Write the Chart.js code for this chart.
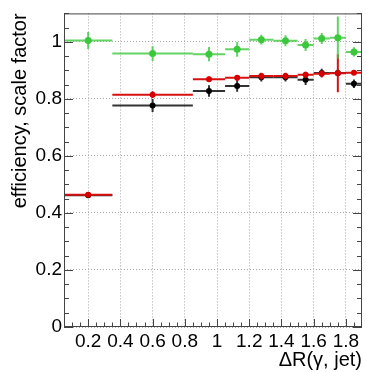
<!DOCTYPE html>
<html>
<head>
<meta charset="utf-8">
<script src="https://cdn.jsdelivr.net/npm/chart.js@4.4.0/dist/chart.umd.min.js"></script>
<style>
body { margin: 0; background: #fff; }
canvas { display: block; }
</style>
</head>
<body>
<canvas id="effChart" width="366" height="372"></canvas>
<script>
//bins in dR(photon, jet): centre and half width
const binCentres = [0.2, 0.6, 0.95, 1.125, 1.275, 1.425, 1.55, 1.65, 1.75, 1.85];
const binHalfWidths = [0.15, 0.25, 0.1, 0.075, 0.075, 0.075, 0.05, 0.05, 0.05, 0.05];

//green series (scale factor)
const greenValues = [1.005, 0.959, 0.957, 0.974, 1.008, 1.004, 0.989, 1.012, 1.015, 0.965];
const greenErrors = [0.03, 0.026, 0.025, 0.026, 0.017, 0.019, 0.021, 0.019, 0.074, 0.016];

//red series
const redValues = [0.464, 0.815, 0.869, 0.874, 0.880, 0.880, 0.885, 0.888, 0.890, 0.892];
const redErrors = [0.008, 0.012, 0.01, 0.01, 0.012, 0.012, 0.01, 0.012, 0.067, 0.008];

//black series
const blackValues = [0.462, 0.777, 0.828, 0.845, 0.876, 0.876, 0.867, 0.891, 0.891, 0.853];
const blackErrors = [0.008, 0.023, 0.02, 0.02, 0.015, 0.015, 0.018, 0.015, 0.012, 0.015];

//tick labels
const xTickValues = [0.2, 0.4, 0.6, 0.8, 1, 1.2, 1.4, 1.6, 1.8];
const yTickValues = [0, 0.2, 0.4, 0.6, 0.8, 1];

function toPoints(values) {
	return binCentres.map((x, i) => ({ x: x, y: values[i] }));
}

//draws the x and y error bars of a dataset just before its markers
const errorBars = {
	id: 'errorBars',
	beforeDatasetDraw(chart, args) {
		const ds = chart.data.datasets[args.index];
		const xs = chart.scales.x, ys = chart.scales.y;
		const ctx = chart.ctx, area = chart.chartArea;
		ctx.save();
		ctx.beginPath();
		ctx.rect(area.left, area.top, area.right - area.left, area.bottom - area.top);
		ctx.clip();
		ctx.strokeStyle = ds.errorColor;
		ctx.lineWidth = 2;
		ds.data.forEach((p, i) => {
			const px = xs.getPixelForValue(p.x), py = ys.getPixelForValue(p.y);
			ctx.beginPath();
			ctx.moveTo(xs.getPixelForValue(p.x - ds.xErr[i]), py);
			ctx.lineTo(xs.getPixelForValue(p.x + ds.xErr[i]), py);
			ctx.moveTo(px, ys.getPixelForValue(p.y - ds.yErr[i]));
			ctx.lineTo(px, ys.getPixelForValue(p.y + ds.yErr[i]));
			ctx.stroke();
		});
		ctx.restore();
	}
};

//ROOT style frame with ticks pointing inwards
const rootFrame = {
	id: 'rootFrame',
	afterDatasetsDraw(chart) {
		const xs = chart.scales.x, ys = chart.scales.y;
		const ctx = chart.ctx, a = chart.chartArea;
		ctx.save();
		ctx.strokeStyle = '#444';
		ctx.lineWidth = 1;
		ctx.strokeRect(a.left + 0.5, a.top + 0.5, a.right - a.left - 1, a.bottom - a.top - 1);
		ctx.beginPath();
		for (let k = 1; k <= 37; k++) {
			const v = k * 0.05;
			if (v < xs.min - 1e-9 || v > xs.max + 1e-9) continue;
			const major = Math.abs(v * 5 - Math.round(v * 5)) < 1e-6;
			const x = Math.round(xs.getPixelForValue(v)) + 0.5;
			ctx.moveTo(x, a.bottom);
			ctx.lineTo(x, a.bottom - (major ? 8 : 4.5));
		}
		for (let k = 0; k <= 22; k++) {
			const v = k * 0.05;
			const major = k % 4 === 0;
			const y = Math.round(ys.getPixelForValue(v)) + 0.5;
			const len = major ? 9 : 5;
			ctx.moveTo(a.left, y);
			ctx.lineTo(a.left + len, y);
			ctx.moveTo(a.right, y);
			ctx.lineTo(a.right - len, y);
		}
		ctx.stroke();
		ctx.restore();
	}
};

Chart.defaults.font.family = '"Liberation Sans", Arial, sans-serif';
Chart.defaults.color = '#000';

const ctx = document.getElementById('effChart').getContext('2d');
new Chart(ctx, {
	type: 'scatter',
	data: {
		datasets: [{
			label: 'green',
			data: toPoints(greenValues),
			xErr: binHalfWidths,
			yErr: greenErrors,
			backgroundColor: '#3cc83c',
			errorColor: 'rgba(60, 200, 60, 0.8)',
			pointRadius: 3.5,
			borderWidth: 0
		}, {
			label: 'red',
			data: toPoints(redValues),
			xErr: binHalfWidths,
			yErr: redErrors,
			backgroundColor: '#d60000',
			errorColor: '#d81010',
			pointRadius: 3,
			borderWidth: 0
		}, {
			label: 'black',
			data: toPoints(blackValues),
			xErr: binHalfWidths,
			yErr: blackErrors,
			backgroundColor: '#000',
			errorColor: '#333',
			pointRadius: 3,
			borderWidth: 0
		}]
	},
	options: {
		responsive: false,
		animation: false,
		layout: { padding: { top: 8, right: 3, left: 0, bottom: 0 } },
		plugins: {
			legend: { display: false },
			tooltip: { enabled: false }
		},
		scales: {
			x: {
				type: 'linear',
				min: 0.05,
				max: 1.9,
				afterBuildTicks: s => { s.ticks = xTickValues.map(v => ({ value: v })); },
				afterFit: s => { s.height = 45; },
				grid: { color: '#a8a8a8', lineWidth: 1, drawTicks: false },
				border: { display: false, dash: [1, 2] },
				ticks: {
					padding: 3,
					autoSkip: false,
					maxRotation: 0,
					font: { size: 19 },
					callback: v => String(v)
				},
				title: {
					display: true,
					text: 'ΔR(γ, jet)',
					align: 'end',
					font: { size: 20 },
					padding: { top: 0, bottom: 0 }
				}
			},
			y: {
				min: 0,
				max: 1.1,
				afterBuildTicks: s => { s.ticks = yTickValues.map(v => ({ value: v })); },
				afterFit: s => { s.width = 64; },
				grid: { color: '#a8a8a8', lineWidth: 1, drawTicks: false },
				border: { display: false, dash: [1, 2] },
				ticks: {
					padding: 2,
					font: { size: 19 },
					callback: v => String(v)
				},
				title: {
					display: true,
					text: 'efficiency, scale factor',
					align: 'end',
					font: { size: 20 },
					padding: { top: 8, bottom: 0 }
				}
			}
		}
	},
	plugins: [errorBars, rootFrame]
});
</script>
</body>
</html>
